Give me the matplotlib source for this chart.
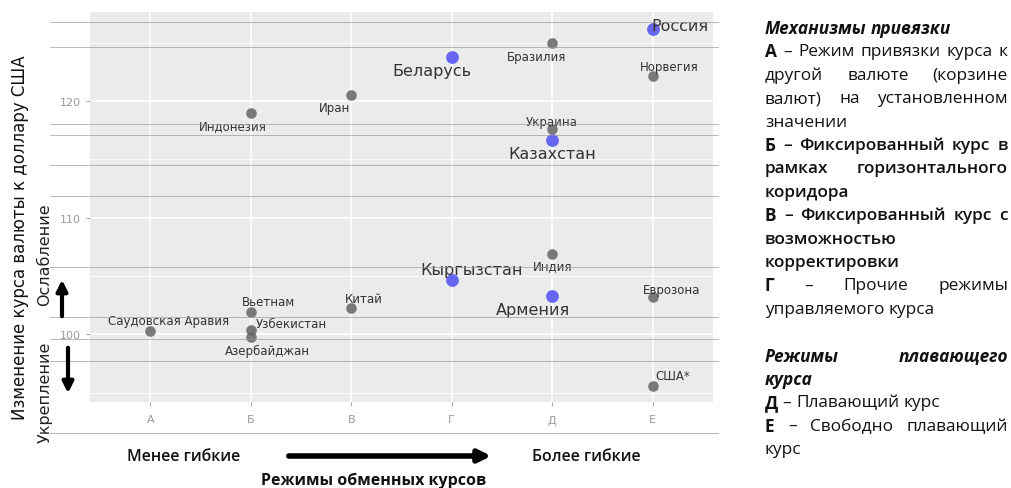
import matplotlib
matplotlib.use('Agg')
import matplotlib.pyplot as plt

# data
countries = ['Саудовская Аравия', 'Вьетнам', 'Узбекистан', 'Азербайджан', 'Индонезия',
             'Китай', 'Иран', 'Кыргызстан', 'Беларусь', 'Индия', 'Армения', 'Бразилия',
             'Украина', 'Казахстан', 'Россия', 'Норвегия', 'Еврозона', 'США*']
regimes = ['А', 'Б', 'Б', 'Б', 'Б', 'В', 'В', 'Г', 'Г', 'Д', 'Д', 'Д', 'Д', 'Д',
           'Е', 'Е', 'Е', 'Е']
change = [100.3, 101.9, 100.4, 99.8, 119.0, 102.3, 120.5, 104.7, 123.8, 106.9,
          103.3, 125.0, 117.6, 116.7, 126.2, 122.2, 103.2, 95.6]
eaeu = ['Кыргызстан', 'Беларусь', 'Армения', 'Казахстан', 'Россия']
categories = ['А', 'Б', 'В', 'Г', 'Д', 'Е']
y_ticks = [100, 110, 120]

# label offsets in pixels (dx, dy up)
offsets = {
    'Саудовская Аравия': (18, 10), 'Вьетнам': (18, 11), 'Узбекистан': (41, 6),
    'Азербайджан': (17, -14), 'Индонезия': (-18, -13), 'Китай': (13, 9),
    'Иран': (-17, -12), 'Кыргызстан': (20, 10), 'Беларусь': (-20, -14),
    'Индия': (0, -12), 'Армения': (-19, -14), 'Бразилия': (-16, -14),
    'Украина': (0, 8), 'Казахстан': (0, -14), 'Россия': (27, 3),
    'Норвегия': (17, 9), 'Еврозона': (19, 8), 'США*': (20, 10),
}

W, H = 1012, 489
fig = plt.figure(figsize=(W / 100, H / 100), dpi=100)
fig.patch.set_facecolor('white')

L, R, T, B = 90, 713, 13, 403
ax = fig.add_axes([L / W, 1 - B / H, (R - L) / W, (B - T) / H])
ax.set_facecolor('#ebebeb')
for s in ax.spines.values():
    s.set_visible(False)

xs = [categories.index(r) + 1 for r in regimes]
ax.set_xlim(0.4, 6.6)
ax.set_ylim(94.2, 127.65)

for v in [95, 105, 115, 125]:
    ax.axhline(v, color='white', lw=0.6, zorder=0)
for v in y_ticks:
    ax.axhline(v, color='white', lw=1.2, zorder=0)
for i in range(1, len(categories) + 1):
    ax.axvline(i, color='white', lw=1.2, zorder=0)

gx = [x for x, c in zip(xs, countries) if c not in eaeu]
gy = [y for y, c in zip(change, countries) if c not in eaeu]
bx = [x for x, c in zip(xs, countries) if c in eaeu]
by = [y for y, c in zip(change, countries) if c in eaeu]
ax.scatter(gx, gy, s=58, color='#646464', alpha=0.85, linewidths=0, zorder=3)
ax.scatter(bx, by, s=85, color='#6666f2', linewidths=0, zorder=3)

for x, y, c in zip(xs, change, countries):
    dx, dy = offsets[c]
    big = c in eaeu
    ax.annotate(c, (x, y), xytext=(dx * 0.72, dy * 0.72), textcoords='offset points',
                ha='center', va='center', fontsize=11.5 if big else 8.5,
                color='#333333', zorder=4)

ax.set_xticks(range(1, len(categories) + 1))
ax.set_xticklabels(categories)
ax.set_yticks(y_ticks)
ax.tick_params(axis='both', colors='#aaaaaa', labelcolor='#999999', labelsize=8,
               length=3, width=0.8)
ax.tick_params(axis='x', pad=6)

# grey lines of the page behind the chart
for yy in [23, 48, 125, 136, 166, 197, 268, 318, 340, 362, 434]:
    fig.add_artist(plt.Line2D([50 / W, 718 / W], [1 - yy / H, 1 - yy / H],
                              color='#9a9a9a', lw=0.7, alpha=0.7, zorder=5))

fig.text(20 / W, 1 - 238 / H, 'Изменение курса валюты к доллару США', rotation=90,
         ha='center', va='center', fontsize=12, color='#111111')
fig.text(45 / W, 1 - 255 / H, 'Ослабление', rotation=90, ha='center', va='center',
         fontsize=11.5, color='#222222')
fig.text(45 / W, 1 - 392 / H, 'Укрепление', rotation=90, ha='center', va='center',
         fontsize=11.5, color='#222222')


def arrow(x1, y1, x2, y2, lw, ms):
    fig.add_artist(matplotlib.patches.FancyArrowPatch(
        (x1 / W, 1 - y1 / H), (x2 / W, 1 - y2 / H), transform=fig.transFigure,
        arrowstyle='-|>', mutation_scale=ms, lw=lw, color='black', zorder=6))


arrow(62, 320, 62, 278, 3, 16)
arrow(68, 346, 68, 397, 3, 16)
arrow(286, 457, 494, 457, 4, 18)

tfont = ['Open Sans', 'DejaVu Sans']
fig.text(184 / W, 1 - 457 / H, 'Менее гибкие', ha='center', va='center', fontsize=11.5,
         family=tfont, weight='semibold', color='#111111')
fig.text(586 / W, 1 - 457 / H, 'Более гибкие', ha='center', va='center', fontsize=11.5,
         family=tfont, weight='semibold', color='#111111')
fig.text(374 / W, 1 - 481 / H, 'Режимы обменных курсов', ha='center', va='center',
         fontsize=11.5, family=tfont, weight='bold', color='#111111')

# explanatory text on the right, justified by hand
notes = [
    ('Механизмы привязки', 'left', 'h'),
    ('А – Режим привязки курса к', 'just', 'n'),
    ('другой валюте (корзине', 'just', 'n'),
    ('валют) на установленном', 'just', 'n'),
    ('значении', 'left', 'n'),
    ('Б – Фиксированный курс в', 'just', 's'),
    ('рамках горизонтального', 'just', 's'),
    ('коридора', 'left', 's'),
    ('В – Фиксированный курс с', 'just', 's'),
    ('возможностью', 'left', 's'),
    ('корректировки', 'left', 's'),
    ('Г – Прочие режимы', 'just', 'n'),
    ('управляемого курса', 'left', 'n'),
    ('', 'left', 'n'),
    ('Режимы плавающего', 'just', 'h'),
    ('курса', 'left', 'h'),
    ('Д – Плавающий курс', 'left', 'n'),
    ('Е – Свободно плавающий', 'just', 'n'),
    ('курс', 'left', 'n'),
]
renderer = fig.canvas.get_renderer()
left_px, right_px, y0, step, fs = 765, 1008, 29, 23.4, 12.4
for i, (line, mode, kind) in enumerate(notes):
    if not line:
        continue
    y = 1 - (y0 + i * step) / H
    words = line.split(' ')
    texts = []
    for j, w in enumerate(words):
        weight = 'normal'
        style = 'normal'
        if kind == 'h':
            weight, style = 'bold', 'italic'
        elif kind == 's':
            weight = 'semibold'
        if j == 0 and w in categories:
            weight = 'bold'
        texts.append(fig.text(0, y, w, fontsize=fs, family=tfont, weight=weight,
                              style=style, ha='left', va='center', color='#111111'))
    widths = [t.get_window_extent(renderer).width for t in texts]
    if mode == 'just' and len(texts) > 1:
        gap = (right_px - left_px - sum(widths)) / (len(texts) - 1)
    else:
        gap = fs * 0.26 * 100 / 72
    x = left_px
    for t, wd in zip(texts, widths):
        t.set_x(x / W)
        x += wd + gap

fig.savefig('out.png', dpi=100)
